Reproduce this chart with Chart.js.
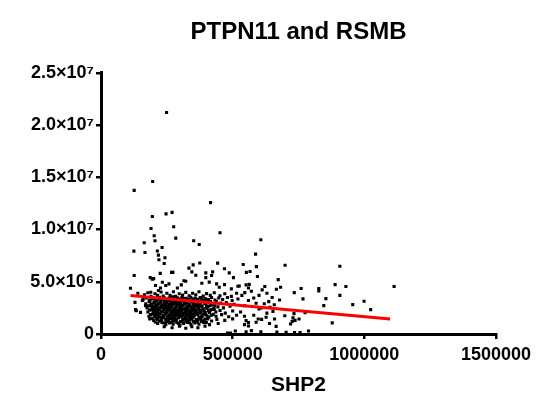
<!DOCTYPE html>
<html><head><meta charset="utf-8">
<script src="https://cdn.jsdelivr.net/npm/chart.js@4.4.0/dist/chart.umd.min.js"></script>
<style>html,body{margin:0;padding:0;background:#fff;}canvas{display:block;}</style>
</head><body>
<canvas id="c" width="550" height="410"></canvas>
<script>
// SHP2 values in thousands, RSMB values in millions
const shp2K = [
 249,126,196,416,195,247,270,190,276,202,
 284,205,452,164,125,167,232,352,373,607,
 214,218,243,220,240,587,126,187,195,200,
 225,268,273,334,350,375,345,360,398,424,
 443,469,487,503,540,552,566,594,590,673,
 699,907,889,930,907,827,827,760,734,767,
 854,846,878,788,735,703,668,607,571,510,
 492,480,1113,956,999,1024,682,666,650,678,
 653,659,726,737,752,698,665,733,729,720,
 775,612,383,411,439,449,469,495,520,551,
 563,560,233,246,258,207,218,226,112,134,
 169,157,185,322,315,305,290,420,398,622,
 630,600,580,620,560,545,600,630,580,610,
 560,640,545,525,546,571,589,609,637,642,
 658,597,627,551,589,560,131,129,150,195,
 189,551,756,
 140,165,178,190,205,215,228,236,250,262,275,283,297,310,322,335,348,360,372,388,401,415,430,452,470,495,515,535,
 160,172,184,197,206,214,222,231,240,248,257,266,272,281,290,298,307,315,324,333,341,350,358,367,377,386,396,408,420,433,447,462,480,498,520,
 170,183,192,201,209,217,225,233,241,249,256,264,271,279,287,294,302,310,318,326,334,343,351,360,369,378,388,399,411,424,438,455,476,505,
 175,188,199,207,214,222,229,237,244,252,259,267,274,282,289,297,304,312,320,327,335,343,352,361,370,380,390,401,414,428,444,465,490,
 178,191,203,211,218,226,233,240,247,254,262,269,277,285,292,300,308,315,323,331,339,347,356,365,375,385,396,408,421,436,452,472,500,530,
 182,196,208,216,224,231,238,246,253,261,268,276,283,291,299,306,314,322,330,338,346,355,364,374,384,395,407,420,437,458,485,515,545,
 200,212,221,230,239,248,257,266,275,284,293,302,311,320,329,338,348,358,369,380,392,405,420,440,470,500,
 215,232,246,260,274,288,300,314,328,342,356,372,390,412,445,
 240,270,298,322,345,368,395,
 186,195,204,212,220,228,236,244,252,260,268,277,285,293,301,309,317,325,333,341,349,357,365,374,383,393,404,416,
 180,190,198,205,213,221,228,236,243,251,258,266,273,281,288,296,303,311,319,326,334,341,349,358,366,375,384,394,406,418,432,
 184,194,201,209,216,224,231,239,246,253,261,268,276,283,291,298,306,313,321,329,337,345,353,362,371,381,392,403,416,430,
 188,199,206,214,221,229,236,243,251,258,265,273,280,288,295,303,310,318,326,334,342,350,359,368,378,389,400,412,426,
 194,204,214,222,230,238,246,254,262,270,278,286,295,303,311,319,327,335,344,352,362,372,383,395,410,
 206,224,238,252,266,280,294,308,322,336,350,366,382,400
];
const rsmbM = [
 21.2,13.75,14.6,12.57,11.25,11.5,11.64,10.1,10.26,9.4,
 9.18,8.92,9.69,8.73,7.93,7.8,8.28,8.92,8.57,9.02,
 7.95,7.55,7.3,7.1,6.75,7.64,5.6,5.4,5.25,5.3,
 5.8,5.9,5.9,6.3,6.62,6.8,5.95,5.62,5.85,5.95,
 6.78,6.25,5.85,5.4,6.65,5.9,5.98,5.5,6.45,5.2,
 6.58,6.49,4.73,4.54,3.7,4.35,4.12,4.35,3.96,3.36,
 3.39,2.72,1.06,0.29,0.15,0.16,0.19,0.2,0.32,0.29,
 0.1,0.08,4.54,2.81,3.13,2.33,4.47,4.28,3.5,3.26,
 2.17,1.44,1.2,1.3,1.44,1.75,0.73,1.95,1.54,0.96,
 2.04,4.22,4.86,4.96,4.8,4.48,4.73,4.32,4.57,4.7,
 4.75,4.4,4.95,4.64,4.8,4.64,4.16,4.4,4.38,2.24,
 2.72,3.2,1.44,5.05,5.1,4.7,4.4,5.6,5.4,4.55,
 3.9,3.7,3.45,2.9,3.2,2.7,2.4,2.0,1.8,1.4,
 1.1,1.0,0.9,4.6,3.96,4.09,2.94,2.49,3.1,2.55,
 2.8,1.44,1.6,1.28,1.12,0.77,2.33,3.03,2.07,2.4,
 4.0,0.2,0.14,
 3.9,3.75,3.95,3.6,3.85,3.7,4.02,3.64,3.9,3.7,4.05,3.6,3.85,3.72,3.98,3.65,3.9,3.76,4.04,3.62,3.86,3.7,3.95,3.66,3.85,3.6,3.9,3.7,
 3.3,3.45,3.22,3.5,3.36,3.25,3.52,3.31,3.46,3.2,3.41,3.28,3.55,3.24,3.47,3.33,3.5,3.21,3.42,3.3,3.52,3.26,3.44,3.32,3.5,3.2,3.4,3.3,3.5,3.25,3.45,3.3,3.5,3.2,3.35,
 2.9,3.1,2.85,3.0,3.15,2.9,3.05,2.8,3.1,2.95,3.15,2.85,3.0,3.1,2.9,3.05,2.8,3.15,2.95,3.05,2.85,3.1,2.9,3.05,2.8,3.0,3.15,2.9,3.05,2.85,3.1,2.95,3.0,2.85,
 2.5,2.7,2.45,2.6,2.75,2.4,2.65,2.5,2.7,2.45,2.6,2.75,2.4,2.55,2.7,2.45,2.6,2.75,2.4,2.55,2.7,2.45,2.6,2.75,2.5,2.65,2.4,2.6,2.7,2.45,2.6,2.5,2.65,
 2.1,2.3,2.05,2.2,2.35,2.0,2.15,2.3,2.05,2.2,2.35,2.0,2.15,2.3,2.05,2.2,2.35,2.0,2.15,2.3,2.05,2.2,2.35,2.0,2.15,2.3,2.05,2.2,2.35,2.1,2.25,2.0,2.2,2.1,
 1.7,1.9,1.65,1.8,1.95,1.6,1.75,1.9,1.65,1.8,1.95,1.6,1.75,1.9,1.65,1.8,1.95,1.6,1.75,1.9,1.65,1.8,1.95,1.6,1.75,1.9,1.65,1.8,1.7,1.85,1.65,1.8,1.7,
 1.3,1.5,1.25,1.4,1.55,1.2,1.35,1.5,1.25,1.4,1.55,1.2,1.35,1.5,1.25,1.4,1.55,1.2,1.35,1.5,1.3,1.45,1.25,1.4,1.3,1.45,
 1.0,1.1,0.9,1.05,0.95,1.1,0.85,1.0,1.1,0.9,1.05,0.95,1.1,0.9,1.0,
 0.7,0.6,0.75,0.55,0.7,0.6,0.75,
 3.15,3.35,3.05,3.25,3.4,3.1,3.3,3.0,3.2,3.38,3.08,3.28,3.12,3.36,3.02,3.22,3.4,3.06,3.3,3.14,3.34,3.04,3.24,3.16,3.38,3.08,3.26,3.12,
 2.7,2.85,2.6,2.8,2.65,2.9,2.55,2.75,2.88,2.62,2.82,2.58,2.78,2.92,2.66,2.84,2.56,2.76,2.9,2.64,2.8,2.6,2.86,2.7,2.58,2.82,2.68,2.9,2.62,2.78,2.7,
 2.3,2.45,2.2,2.4,2.25,2.5,2.18,2.38,2.48,2.22,2.42,2.16,2.36,2.5,2.26,2.44,2.2,2.4,2.28,2.46,2.18,2.34,2.48,2.24,2.42,2.3,2.2,2.44,2.28,2.36,
 1.85,2.05,1.8,2.0,1.9,2.1,1.78,1.98,2.08,1.82,2.02,1.76,1.96,2.1,1.86,2.04,1.8,2.0,1.88,2.06,1.78,1.94,2.08,1.84,2.02,1.9,1.8,2.04,1.88,
 1.5,1.65,1.4,1.6,1.45,1.7,1.38,1.58,1.68,1.42,1.62,1.36,1.56,1.7,1.46,1.64,1.4,1.6,1.48,1.66,1.38,1.54,1.68,1.44,1.6,
 1.15,1.25,1.05,1.2,1.1,1.28,1.02,1.18,1.26,1.08,1.22,1.12,1.2,1.1
];
// regression line end points
const fitX = [112000, 1098000];
const fitY = [3680000, 1440000];
const xTickValues = [0, 500000, 1000000, 1500000];
const xTickLabels = ['0', '500000', '1000000', '1500000'];
const yTickValues = [0, 5000000, 10000000, 15000000, 20000000, 25000000];
const yTickLabels = ['0', '5.0×10⁶', '1.0×10⁷', '1.5×10⁷', '2.0×10⁷', '2.5×10⁷'];
const chartTitle = 'PTPN11 and RSMB';
const xTitle = 'SHP2';

const n = Math.min(shp2K.length, rsmbM.length);
const pts = [];
for (let i = 0; i < n; i++) pts.push({x: shp2K[i] * 1000, y: rsmbM[i] * 1e6});
const fit = fitX.map((x, i) => ({x: x, y: fitY[i]}));

const FAM = "'Liberation Sans', Arial, sans-serif";
const axisCommon = {
  grid: {display: true, drawOnChartArea: false, drawTicks: true, tickLength: 5, color: '#000', lineWidth: 2.5},
  border: {display: true, color: '#000', width: 3}
};

new Chart(document.getElementById('c'), {
  type: 'scatter',
  data: {
    datasets: [
      {data: fit, showLine: true, borderColor: '#ff0000', borderWidth: 3, pointRadius: 0, fill: false},
      {data: pts, pointStyle: 'rect', pointRadius: 2.2, pointBorderWidth: 0, backgroundColor: '#000', borderColor: '#000'}
    ]
  },
  options: {
    responsive: false, animation: false, devicePixelRatio: 1,
    layout: {padding: {left: 0, right: 54, top: 0, bottom: 0}},
    events: [],
    plugins: {
      legend: {display: false}, tooltip: {enabled: false},
      title: {display: true, text: chartTitle, fullSize: false, color: '#000',
        font: {family: FAM, size: 24, weight: 'bold'}, padding: {top: 18, bottom: 26}}
    },
    scales: {
      x: Object.assign({}, axisCommon, {
        type: 'linear', min: 0, max: 1500000,
        afterFit(s) { s.height = 76; },
        afterBuildTicks(s) { s.ticks = xTickValues.map(v => ({value: v})); },
        ticks: {color: '#000', padding: 5, maxRotation: 0, autoSkip: false,
          font: {family: FAM, size: 18, weight: 'bold'},
          callback: (v, i) => xTickLabels[i]},
        title: {display: true, text: xTitle, color: '#000', font: {family: FAM, size: 21, weight: 'bold'}, padding: {top: 0, bottom: 12}}
      }),
      y: Object.assign({}, axisCommon, {
        type: 'linear', min: 0, max: 25000000,
        afterFit(s) { s.width = 101; },
        afterBuildTicks(s) { s.ticks = yTickValues.map(v => ({value: v})); },
        ticks: {color: '#000', padding: 2, autoSkip: false,
          font: {family: FAM, size: 18, weight: 'bold'},
          callback: (v, i) => yTickLabels[i]}
      })
    }
  }
});
</script>
</body></html>
